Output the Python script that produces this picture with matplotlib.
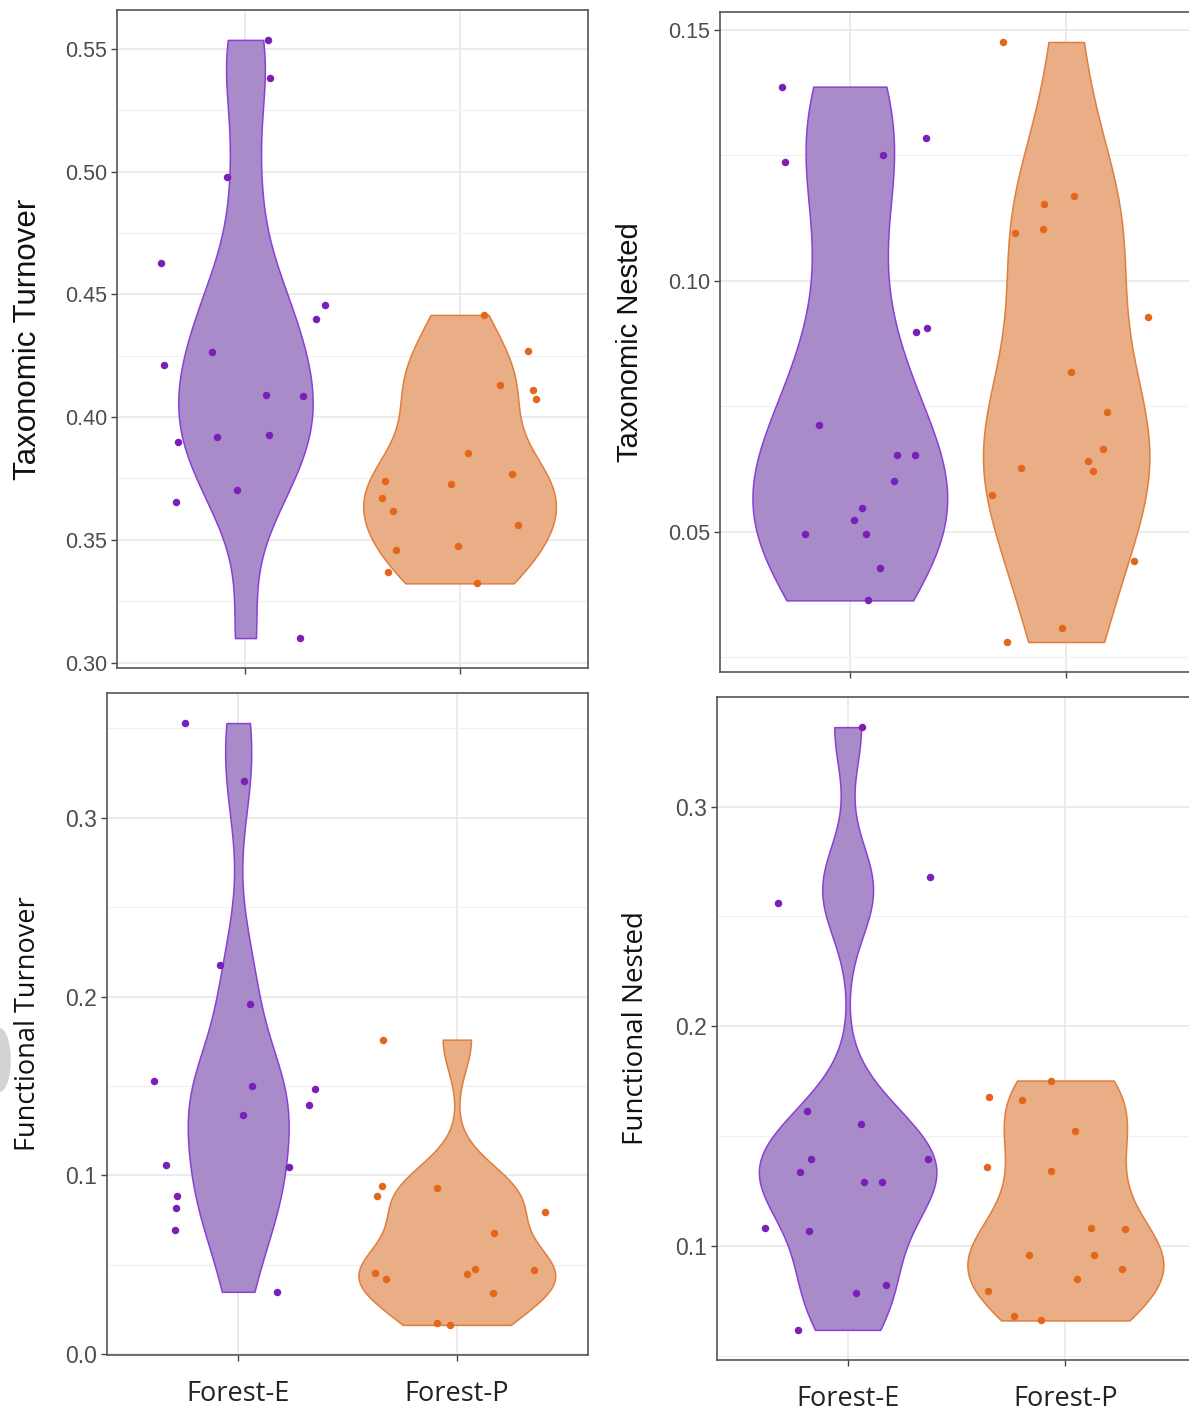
import numpy as np
import matplotlib.pyplot as plt
from matplotlib.ticker import MultipleLocator, FormatStrFormatter
from matplotlib.patches import Ellipse

groups = ['Forest-E', 'Forest-P']

# Taxonomic Turnover
tt_E = [0.5536, 0.5379, 0.4977, 0.4629, 0.4211, 0.4264, 0.4089, 0.4086,
        0.4398, 0.4455, 0.3900, 0.3918, 0.3929, 0.3702, 0.3654, 0.3100]
tt_E_jit = [0.107, 0.113, -0.086, -0.395, -0.380, -0.155, 0.095, 0.268,
            0.330, 0.371, -0.313, -0.134, 0.111, -0.039, -0.323, 0.257]
tt_P = [0.4416, 0.4268, 0.4130, 0.4111, 0.4075, 0.3852, 0.3729, 0.3770,
        0.3738, 0.3670, 0.3618, 0.3559, 0.3477, 0.3457, 0.3370, 0.3323]
tt_P_jit = [0.116, 0.318, 0.189, 0.341, 0.355, 0.039, -0.039, 0.246,
            -0.346, -0.363, -0.311, 0.275, -0.007, -0.298, -0.334, 0.080]

# Taxonomic Nested
tn_E = [0.1387, 0.1237, 0.1284, 0.1250, 0.0898, 0.0906, 0.0712, 0.0652,
        0.0652, 0.0600, 0.0547, 0.0523, 0.0496, 0.0496, 0.0427, 0.0363]
tn_E_jit = [-0.315, -0.299, 0.352, 0.152, 0.308, 0.356, -0.141, 0.216,
            0.302, 0.202, 0.057, 0.020, -0.208, 0.075, 0.138, 0.086]
tn_P = [0.1476, 0.1170, 0.1154, 0.1104, 0.1096, 0.0927, 0.0819, 0.0738,
        0.0664, 0.0640, 0.0620, 0.0627, 0.0573, 0.0442, 0.0307, 0.0280]
tn_P_jit = [-0.293, 0.038, -0.104, -0.109, -0.238, 0.377, 0.023, 0.190,
            0.170, 0.102, 0.125, -0.211, -0.342, 0.313, -0.021, -0.275]

# Functional Turnover
ft_E = [0.3528, 0.3204, 0.2174, 0.1960, 0.1526, 0.1502, 0.1340, 0.1484,
        0.1395, 0.1058, 0.1045, 0.0888, 0.0820, 0.0698, 0.0350]
ft_E_jit = [-0.245, 0.028, -0.084, 0.052, -0.383, 0.065, 0.023, 0.351,
            0.322, -0.332, 0.234, -0.278, -0.285, -0.288, 0.178]
ft_P = [0.1759, 0.0941, 0.0888, 0.0928, 0.0797, 0.0679, 0.0478, 0.0447,
        0.0473, 0.0457, 0.0421, 0.0345, 0.0178, 0.0165]
ft_P_jit = [-0.337, -0.343, -0.367, -0.091, 0.402, 0.170, 0.082, 0.047,
            0.355, -0.374, -0.322, 0.164, -0.089, -0.031]

# Functional Nested
fn_E = [0.3362, 0.2680, 0.2561, 0.1614, 0.1554, 0.1397, 0.1397, 0.1335,
        0.1290, 0.1290, 0.1081, 0.1066, 0.0785, 0.0821, 0.0618]
fn_E_jit = [0.064, 0.378, -0.319, -0.185, 0.061, -0.167, 0.369, -0.221,
            0.077, 0.157, -0.380, -0.179, 0.037, 0.178, -0.230]
fn_P = [0.1753, 0.1676, 0.1663, 0.1522, 0.1358, 0.1339, 0.1083, 0.1075,
        0.0960, 0.0957, 0.0896, 0.0851, 0.0793, 0.0682, 0.0661]
fn_P_jit = [-0.064, -0.350, -0.199, 0.045, -0.359, -0.068, 0.117, 0.274,
            -0.169, 0.132, 0.261, 0.054, -0.357, -0.235, -0.113]

fills = ['#a88bc8', '#e9ae86']
lines = ['#8c3fd6', '#e07e3c']
dots = ['#7a1fb8', '#e2671a']

plt.rcParams['font.family'] = ['Liberation Sans', 'DejaVu Sans']


# densidad tipo R (bw nrd0), recortada al rango de los datos
def kde(v, n=512):
    v = np.asarray(v)
    q75, q25 = np.percentile(v, [75, 25])
    bw = 0.9 * min(v.std(ddof=1), (q75 - q25) / 1.34) * len(v) ** -0.2
    y = np.linspace(v.min(), v.max(), n)
    d = np.exp(-0.5 * ((y[:, None] - v[None, :]) / bw) ** 2).sum(1)
    d = d / (len(v) * bw * np.sqrt(2 * np.pi))
    return y, d


def panel(ax, E, Ejit, P, Pjit, label, major, fmt, xlabels, lab_x,
          lab_font, lab_size, tick_size):
    dens = [kde(E), kde(P)]
    mx = max(d.max() for _, d in dens)
    for i, (y, d) in enumerate(dens):
        w = 0.45 * d / mx
        ax.fill_betweenx(y, i + 1 - w, i + 1 + w, facecolor=fills[i],
                         edgecolor=lines[i], lw=1.1, zorder=2)
    for i, (vals, jit) in enumerate([(E, Ejit), (P, Pjit)]):
        ax.scatter(i + 1 + np.array(jit), vals, s=29, color=dots[i],
                   lw=0, zorder=3)
    allv = np.concatenate([E, P])
    r = allv.max() - allv.min()
    ax.set_ylim(allv.min() - 0.05 * r, allv.max() + 0.05 * r)
    ax.set_xlim(0.4, 2.6)
    ax.set_xticks([1, 2])
    ax.xaxis.set_minor_locator(MultipleLocator(10))
    ax.yaxis.set_major_locator(MultipleLocator(major))
    ax.yaxis.set_minor_locator(MultipleLocator(major / 2))
    ax.yaxis.set_major_formatter(FormatStrFormatter(fmt))
    ax.grid(True, which='major', color='#e6e6e6', lw=1.1, zorder=0)
    ax.grid(True, which='minor', axis='y', color='#f1f1f1', lw=0.9, zorder=0)
    ax.set_axisbelow(True)
    ax.tick_params(which='major', direction='out', length=4, width=1,
                   color='#444444', labelsize=tick_size, labelcolor='#4d4d4d',
                   pad=3)
    ax.tick_params(which='minor', length=0)
    if xlabels:
        ax.set_xticklabels(groups, family='Open Sans', fontsize=19.5,
                           color='#222222')
        ax.tick_params(axis='x', pad=14)
    else:
        ax.set_xticklabels([])
    for s in ax.spines.values():
        s.set_color('#555555')
        s.set_linewidth(1.2)
    ax.set_ylabel(label, fontsize=lab_size, family=lab_font,
                  color='#111111', va='center')
    ax.yaxis.set_label_coords(lab_x, 0.5)


W, H = 1189, 1412
fig = plt.figure(figsize=(W / 100, H / 100), dpi=100)

def px_axes(x0, y0, x1, y1):
    return fig.add_axes([x0 / W, 1 - y1 / H, (x1 - x0) / W, (y1 - y0) / H])

ax1 = px_axes(117, 10, 588, 668)
ax2 = px_axes(720, 12, 1196, 672)
ax3 = px_axes(107, 693, 588, 1355)
ax4 = px_axes(717, 697, 1196, 1360)

panel(ax1, tt_E, tt_E_jit, tt_P, tt_P_jit, 'Taxonomic Turnover', 0.05,
      '%.2f', False, (28 - 117) / 471, 'Liberation Sans', 22.5, 15.5)
panel(ax2, tn_E, tn_E_jit, tn_P, tn_P_jit, 'Taxonomic Nested', 0.05,
      '%.2f', False, (630 - 720) / 476, 'Liberation Sans', 21, 15.5)
panel(ax3, ft_E, ft_E_jit, ft_P, ft_P_jit, 'Functional Turnover', 0.1,
      '%.1f', True, (28 - 107) / 481, 'Open Sans', 19.5, 16.5)
panel(ax4, fn_E, fn_E_jit, fn_P, fn_P_jit, 'Functional Nested', 0.1,
      '%.1f', True, (636 - 717) / 479, 'Open Sans', 20, 16.5)

# trozo gris recortado en el borde izquierdo
fig.patches.append(Ellipse((0.0, 1 - 1060 / H), 0.018, 0.045,
                           transform=fig.transFigure, facecolor='#d2d2d2',
                           edgecolor='none'))

fig.savefig('out.png', dpi=100)
